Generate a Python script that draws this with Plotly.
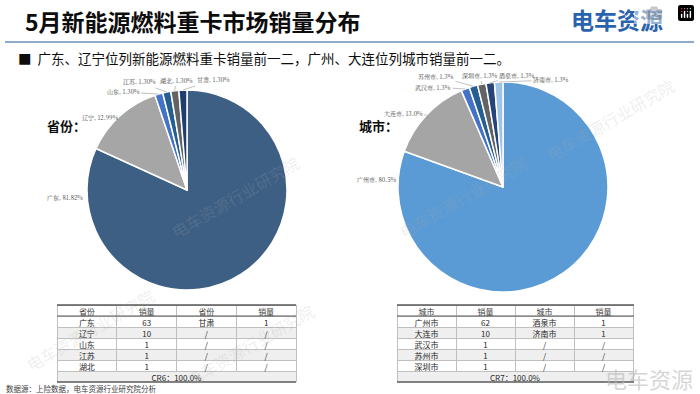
import math
import plotly.graph_objects as go

# ---------------- data ----------------
prov_labels = ["广东", "辽宁", "山东", "江苏", "湖北", "甘肃"]
prov_values = [63, 10, 1, 1, 1, 1]

city_labels = ["广州市", "大连市", "武汉市", "苏州市", "深圳市", "酒泉市", "济南市"]
city_values = [62, 10, 1, 1, 1, 1, 1]

prov_tbl_header = ["省份", "销量", "省份", "销量"]
prov_tbl_c1 = ["广东", "辽宁", "山东", "江苏", "湖北"]
prov_tbl_c2 = ["63", "10", "1", "1", "1"]
prov_tbl_c3 = ["甘肃", "/", "/", "/", "/"]
prov_tbl_c4 = ["1", "/", "/", "/", "/"]
prov_cr = "CR6：100.0%"

city_tbl_header = ["城市", "销量", "城市", "销量"]
city_tbl_c1 = ["广州市", "大连市", "武汉市", "苏州市", "深圳市"]
city_tbl_c2 = ["62", "10", "1", "1", "1"]
city_tbl_c3 = ["酒泉市", "济南市", "/", "/", "/"]
city_tbl_c4 = ["1", "1", "/", "/", "/"]
city_cr = "CR7：100.0%"

title_text = "5月新能源燃料重卡市场销量分布"
bullet_text = "■  广东、辽宁位列新能源燃料重卡销量前一二，广州、大连位列城市销量前一二。"
source_text = "数据源：上险数据，电车资源行业研究院分析"

# ---------------- styles ----------------
prov_colors = ["#3d5f84", "#a6a6a6", "#4472c4", "#255e91", "#636363", "#1f3d6e"]
city_colors = ["#5b9bd5", "#a5a5a5", "#4472c4", "#255e91", "#636363", "#264478", "#9dc3e6"]

# label centre positions (px) for each slice, and whether to draw a leader line
prov_label_pos = [(65, 197), (100, 117), (123, 92), (139, 82), (176, 80), (213, 80)]
prov_label_arrow = [False, True, True, True, True, True]
city_label_pos = [(376, 179), (403, 113), (433, 87), (436, 76), (480, 75), (517, 75), (551, 80)]
city_label_arrow = [False, True, True, True, True, True, True]

W, H = 700, 394
FONT = "Noto Sans CJK SC"
LBL_FONT = "Noto Serif CJK SC, Noto Sans CJK SC"


def px(x):
    return x / W


def py(y):
    return 1 - y / H


fig = go.Figure()
ann = []


def add_pie(labels, values, colors, cx, cy, r, decimals, label_pos, label_arrow):
    fig.add_trace(go.Pie(
        labels=labels, values=values, sort=False, direction="clockwise", rotation=0,
        marker=dict(colors=colors, line=dict(color="white", width=1.5)),
        textinfo="none",
        domain=dict(x=[px(cx - r), px(cx + r)], y=[py(cy + r), py(cy - r)]),
        hoverinfo="label+value+percent",
    ))
    total = sum(values)
    cum = 0
    for lab, v, (lx, ly), arrow in zip(labels, values, label_pos, label_arrow):
        mid = (cum + v / 2) / total * 2 * math.pi
        cum += v
        tx = cx + r * math.sin(mid)
        ty = cy - r * math.cos(mid)
        text = f"{lab}, {v / total * 100:.{decimals}f}%"
        if arrow:
            ann.append(dict(x=px(tx), y=py(ty), xref="paper", yref="paper", text=text,
                            showarrow=True, arrowhead=0, arrowwidth=0.7, arrowcolor="#a6a6a6",
                            ax=lx - tx, ay=ly - ty, standoff=0,
                            font=dict(size=6, color="#404040", family=LBL_FONT)))
        else:
            ann.append(dict(x=px(lx), y=py(ly), xref="paper", yref="paper", text=text,
                            showarrow=False, xanchor="center", yanchor="middle",
                            font=dict(size=6, color="#404040", family=LBL_FONT)))


add_pie(prov_labels, prov_values, prov_colors, 187, 190, 100, 2, prov_label_pos, prov_label_arrow)
add_pie(city_labels, city_values, city_colors, 503, 187, 105, 1, city_label_pos, city_label_arrow)

ROW_H = 11
TXT_SHIFT = 4  # plotly places table text low in short rows; text layer is lifted by this many px
EXTRA = 7      # extra room below the text layer so the last row's glyphs are not clipped
row_fill = ["white", "#efefef", "white", "#efefef", "white"]
CLEAR = "rgba(0,0,0,0)"


def add_table(header, cols, cr, x0, x1, y0):
    y_mid = y0 + ROW_H * 6
    blank_cols = [[""] * len(c) for c in cols]
    # background layer: fills and grid
    fig.add_trace(go.Table(
        domain=dict(x=[px(x0), px(x1)], y=[py(y_mid + 1), py(y0)]),
        header=dict(values=[""] * len(header), fill_color="white", height=ROW_H,
                    line=dict(color="#bfbfbf", width=1)),
        cells=dict(values=blank_cols, fill_color=[row_fill] * 4, height=ROW_H,
                   line=dict(color="#bfbfbf", width=1)),
    ))
    fig.add_trace(go.Table(
        domain=dict(x=[px(x0), px(x1)], y=[py(y_mid + ROW_H + 1), py(y_mid)]),
        header=dict(values=[""], fill_color="#efefef", height=ROW_H,
                    line=dict(color="#bfbfbf", width=1)),
        cells=dict(values=[[]], height=0),
    ))
    # text layer
    s = TXT_SHIFT
    fig.add_trace(go.Table(
        domain=dict(x=[px(x0), px(x1)], y=[py(y_mid + 1 - s + EXTRA), py(y0 - s)]),
        header=dict(values=header, fill_color=CLEAR, height=ROW_H,
                    line=dict(color=CLEAR, width=0), align="center",
                    font=dict(size=8, color="#404040", family=FONT)),
        cells=dict(values=cols, fill_color=CLEAR, height=ROW_H,
                   line=dict(color=CLEAR, width=0), align="center",
                   font=dict(size=8, color="#262626", family=FONT)),
    ))
    fig.add_trace(go.Table(
        domain=dict(x=[px(x0), px(x1)], y=[py(y_mid + ROW_H + 1 - s + EXTRA), py(y_mid - s)]),
        header=dict(values=[cr], fill_color=CLEAR, height=ROW_H,
                    line=dict(color=CLEAR, width=0), align="center",
                    font=dict(size=8, color="#262626", family=FONT)),
        cells=dict(values=[[]], height=0),
    ))
    for yy, w in [(y0, 1.5), (y0 + ROW_H, 1), (y_mid + ROW_H, 1.5)]:
        fig.add_shape(type="line", xref="paper", yref="paper",
                      x0=px(x0), x1=px(x1), y0=py(yy), y1=py(yy),
                      line=dict(color="#595959", width=w))


add_table(prov_tbl_header, [prov_tbl_c1, prov_tbl_c2, prov_tbl_c3, prov_tbl_c4], prov_cr, 57, 296, 305)
add_table(city_tbl_header, [city_tbl_c1, city_tbl_c2, city_tbl_c3, city_tbl_c4], city_cr, 397, 634, 305)

# header rule
fig.add_shape(type="line", xref="paper", yref="paper", x0=px(5), x1=px(694), y0=py(42), y1=py(42),
              line=dict(color="#8eaacb", width=2))

# watermarks
for (wx, wy) in [(235, 197), (463, 197), (250, 345), (90, 330), (610, 120)]:
    ann.append(dict(x=px(wx), y=py(wy), xref="paper", yref="paper", text="电车资源行业研究院",
                    showarrow=False, textangle=-30, xanchor="center", yanchor="middle",
                    font=dict(size=16, color="rgba(170,170,170,0.2)", family=FONT)))
ann.append(dict(x=px(649), y=py(378), xref="paper", yref="paper", text="电车资源", showarrow=False,
                xanchor="center", yanchor="middle",
                font=dict(size=22, color="rgba(185,185,185,0.6)", family=FONT)))


def txt(x, y, text, size, color="#0d0d0d", xanchor="left"):
    ann.append(dict(x=px(x), y=py(y), xref="paper", yref="paper", text=text, showarrow=False,
                    xanchor=xanchor, yanchor="middle", font=dict(size=size, color=color, family=FONT)))


txt(23, 21, "<b>" + title_text + "</b>", 23)
txt(617, 19, "<b>电车资源</b>", 23, color="#2a63ad", xanchor="center")
txt(16, 58, bullet_text, 13.5)
txt(45, 126, "<b>省份：</b>", 13)
txt(357, 126, "<b>城市：</b>", 13)
txt(4, 388, source_text, 7.5, color="#404040")

fig.update_layout(
    width=W, height=H, margin=dict(l=0, r=0, t=0, b=0),
    paper_bgcolor="white", plot_bgcolor="white", showlegend=False,
    annotations=ann, font=dict(family=FONT),
)

fig.write_html("out.html", post_script="document.body.style.margin='0';")
